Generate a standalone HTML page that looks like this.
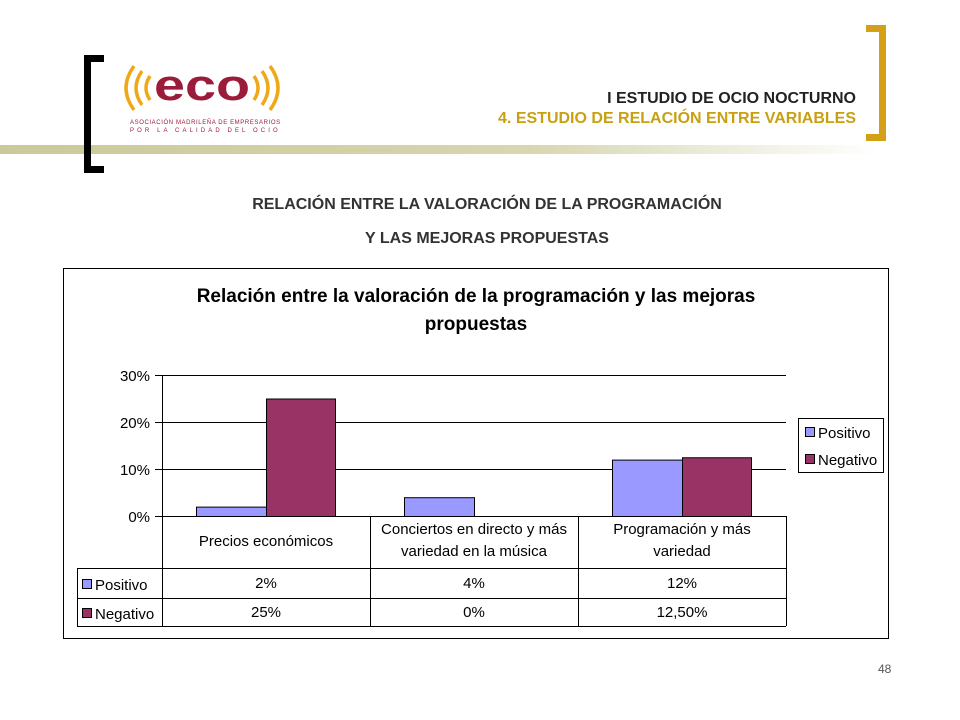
<!DOCTYPE html>
<html><head><meta charset="utf-8"><style>
body{margin:0;width:960px;height:720px;background:#fff;position:relative;font-family:"Liberation Sans",sans-serif;overflow:hidden}
.a{position:absolute}
</style></head><body>
<div class="a" style="left:0;top:145px;width:880px;height:9px;background:linear-gradient(90deg,#c9c99a,#d6d6b0 60%,#fff)"></div>
<div class="a" style="left:84px;top:55px;height:118px;border:7px solid #000;border-right:none;box-sizing:border-box;width:20px"></div>
<div class="a" style="left:866px;top:25px;width:20px;height:116px;border:7px solid #d4a017;border-left:none;box-sizing:border-box"></div>
<div class="a" style="left:122px;top:58px;width:160px;height:80px">
<svg width="160" height="80"><g fill="none" stroke="#f0a818" stroke-width="3.5"><path d="M12 8 Q-4 30 12 52"/><path d="M20 13 Q8 30 20 47"/><path d="M28 18 Q20 30 28 42"/><path d="M148 8 Q164 30 148 52"/><path d="M140 13 Q152 30 140 47"/><path d="M132 18 Q140 30 132 42"/></g>
<text x="80" y="42" text-anchor="middle" font-family="Liberation Sans" font-size="44" font-weight="bold" fill="#9b1c3a" textLength="96" lengthAdjust="spacingAndGlyphs">eco</text>
<text x="8" y="66" font-size="6" fill="#9b1c3a" letter-spacing="0.6">ASOCIACIÓN MADRILEÑA DE EMPRESARIOS</text>
<text x="8" y="74" font-size="6" fill="#9b1c3a" letter-spacing="3.1">POR LA CALIDAD DEL OCIO</text></svg></div>
<div class="a" style="right:104px;top:89px;text-align:right;font-weight:bold;font-size:16px;line-height:20px"><div style="color:#222">I ESTUDIO DE OCIO NOCTURNO</div><div style="color:#c8a012">4. ESTUDIO DE RELACIÓN ENTRE VARIABLES</div></div>
<div class="a" style="left:0;width:974px;top:188px;text-align:center;font-weight:bold;font-size:16px;line-height:34px;color:#333">RELACIÓN ENTRE LA VALORACIÓN DE LA PROGRAMACIÓN<br>Y LAS MEJORAS PROPUESTAS</div>
<div class="a" style="left:878px;top:662px;font-size:12px;color:#555">48</div>
<svg class="a" style="left:0;top:0" width="960" height="720" id="c"></svg>
<script>
const categories=[["Precios económicos"],["Conciertos en directo y más","variedad en la música"],["Programación y más","variedad"]];
const positivo=[2,4,12];
const negativo=[25,0,12.5];
const posLabels=["2%","4%","12%"];
const negLabels=["25%","0%","12,50%"];
const ticks=[0,10,20,30];
const svg=document.getElementById('c');const NS='http://www.w3.org/2000/svg';
function el(t,a,txt){const e=document.createElementNS(NS,t);for(const k in a)e.setAttribute(k,a[k]);if(txt!=null)e.textContent=txt;svg.appendChild(e);return e;}
const x0=162,cw=208,y=v=>516-v*4.7;
let e=el('rect',{x:63.5,y:268.5,width:825,height:370,fill:'#fff',stroke:'#000'});


e=el('text',{x:476,y:302,'text-anchor':'middle','font-size':19,'font-weight':'bold'},'Relación entre la valoración de la programación y las mejoras');


el('text',{x:476,y:330,'text-anchor':'middle','font-size':19,'font-weight':'bold'},'propuestas');
ticks.forEach(t=>{e=el('line',{x1:155,x2:786,y1:y(t)+.5,y2:y(t)+.5,stroke:'#000'});


e=el('text',{x:150,y:y(t)+6,'text-anchor':'end','font-size':15},t+'%');

});
el('line',{x1:162.5,x2:162.5,y1:375,y2:626,stroke:'#000'});
categories.forEach((c,i)=>{const gx=x0+i*cw;
e=el('rect',{x:gx+34.5,y:y(positivo[i])+.5,width:70,height:positivo[i]*4.7,fill:'#9999ff',stroke:'#000'});


e=el('rect',{x:gx+104.5,y:y(negativo[i])+.5,width:69,height:negativo[i]*4.7,fill:'#993366',stroke:'#000'});


el('line',{x1:gx+cw+.5,x2:gx+cw+.5,y1:516,y2:626,stroke:'#000'});
c.forEach((l,j)=>{e=el('text',{x:gx+cw/2,y:(c.length==1?546:534)+j*22,'text-anchor':'middle','font-size':15},l);

});
e=el('text',{x:gx+cw/2,y:588,'text-anchor':'middle','font-size':15},posLabels[i]);


e=el('text',{x:gx+cw/2,y:617,'text-anchor':'middle','font-size':15},negLabels[i]);

});
[568,598,626].forEach(yy=>el('line',{x1:77,x2:786,y1:yy+.5,y2:yy+.5,stroke:'#000'}));
el('line',{x1:77.5,x2:77.5,y1:568,y2:626,stroke:'#000'});
[["Positivo",'#9999ff',590],["Negativo",'#993366',619]].forEach(r=>{el('rect',{x:82.5,y:r[2]-10.5,width:9,height:9,fill:r[1],stroke:'#000'});
e=el('text',{x:95,y:r[2],'font-size':15},r[0]);

});
e=el('rect',{x:798.5,y:418.5,width:85,height:54,fill:'#fff',stroke:'#000'});


[["Positivo",'#9999ff',438],["Negativo",'#993366',465]].forEach(r=>{el('rect',{x:805.5,y:r[2]-10.5,width:9,height:9,fill:r[1],stroke:'#000'});
e=el('text',{x:818,y:r[2],'font-size':15},r[0]);

});
</script>
</body></html>
